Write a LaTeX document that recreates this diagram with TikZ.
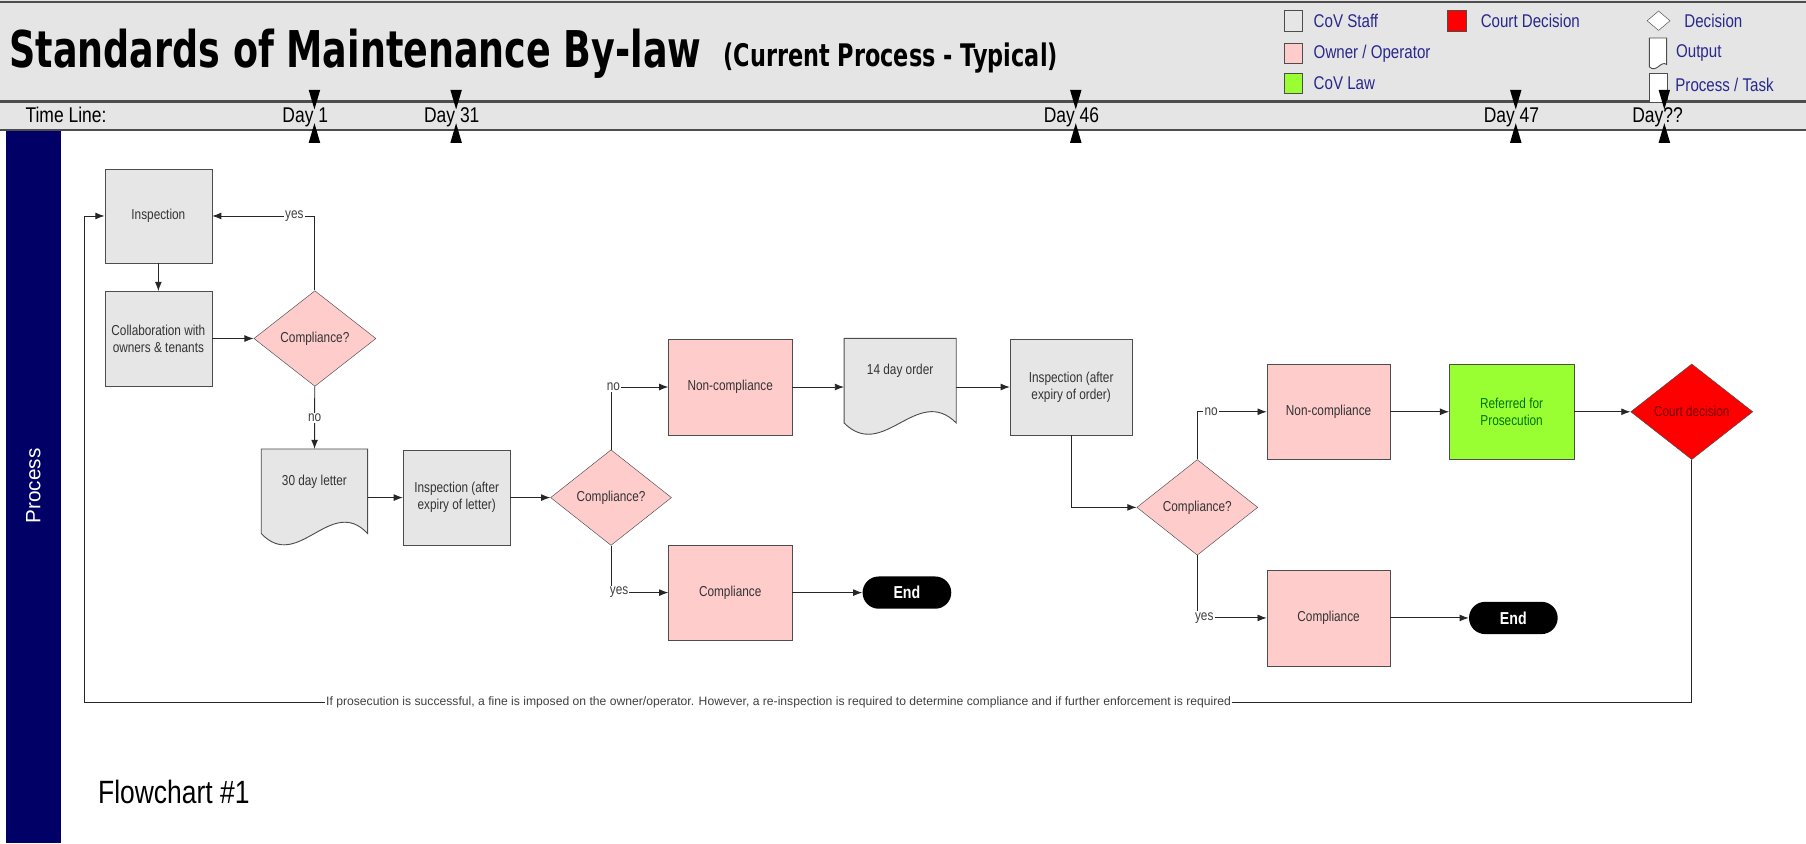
\documentclass[tikz,border=0pt]{standalone}
\usepackage{fontspec}
\setmainfont{Liberation Sans}
\newfontfamily\narrowfont{Liberation Sans}[FakeStretch=0.82]
\newfontfamily\titlefont{DejaVu Sans}[FakeStretch=0.72]
\usetikzlibrary{positioning,shapes.geometric,arrows.meta,backgrounds,calc}

\definecolor{staffgray}{RGB}{230,230,230}
\definecolor{headgray}{RGB}{229,229,229}
\definecolor{ownerpink}{RGB}{255,204,204}
\definecolor{lawgreen}{RGB}{153,255,51}
\definecolor{courtred}{RGB}{255,0,0}
\definecolor{bandblue}{RGB}{0,0,102}
\definecolor{edgegray}{RGB}{77,77,77}
\definecolor{legendblue}{RGB}{40,40,140}

\begin{document}
\begin{tikzpicture}[
x=1pt, y=1pt,
task/.style={
  rectangle,
  draw=edgegray,
  fill=staffgray,
  minimum width=93pt,
  minimum height=82pt,
  inner sep=2pt,
  align=center,
  text=black!80,
  font=\narrowfont\fontsize{12.5}{14.5}\selectfont},
owner/.style={task, fill=ownerpink, minimum width=107pt, minimum height=83pt},
law/.style={task, fill=lawgreen, minimum width=108pt, minimum height=83pt, text=black!55!green},
decision/.style={
  diamond,
  draw=edgegray,
  fill=ownerpink,
  minimum width=106pt,
  minimum height=83pt,
  inner sep=0pt,
  align=center,
  text=black!80,
  font=\narrowfont\fontsize{12.5}{14.5}\selectfont},
court/.style={decision, fill=courtred, text=red!45!black},
doc/.style={
  rectangle,
  minimum width=92pt,
  minimum height=56pt,
  inner sep=2pt,
  align=center,
  text=black!80,
  font=\narrowfont\fontsize{12.5}{14.5}\selectfont},
docline/.style={draw=edgegray, fill=staffgray, line width=0.8pt},
terminal/.style={
  rectangle,
  rounded corners=14pt,
  fill=black,
  minimum width=77pt,
  minimum height=28pt,
  text=white,
  font=\narrowfont\bfseries\fontsize{15}{17}\selectfont},
conn/.style={draw=black!85, line width=0.8pt, -{Latex[length=8pt,width=6pt]}},
lbl/.style={fill=white, inner sep=1pt, text=black!75,
  font=\narrowfont\fontsize{12.5}{14.5}\selectfont},
legendbox/.style={draw=edgegray, line width=0.8pt, minimum width=16pt, minimum height=18pt, inner sep=0pt},
legendtxt/.style={inner sep=0pt, text=legendblue, font=\narrowfont\fontsize{16}{18}\selectfont},
dayline/.style={anchor=base west, inner sep=0pt, font=\narrowfont\fontsize{18.5}{20}\selectfont}
]
\useasboundingbox (0,0) rectangle (1568,-732);

% header and swim lane
\fill[headgray] (0,0) rectangle (1568,-113);
\draw[edgegray, line width=2pt] (0,-2) -- (1568,-2);
\draw[edgegray, line width=2pt] (0,-88) -- (1568,-88);
\draw[edgegray, line width=2pt] (0,-113) -- (1568,-113);
\fill[bandblue] (5,-114) rectangle (53,-732);
\node[rotate=90, text=white, font=\fontsize{18}{20}\selectfont] (lane) at (29,-422) {Process};

\node[anchor=base west, inner sep=0pt, font=\titlefont\bfseries\fontsize{44}{48}\selectfont] (title) at (8,-59) {Standards of Maintenance By-law};
\node[anchor=base west, inner sep=0pt, font=\titlefont\bfseries\fontsize{27}{30}\selectfont] (subtitle) at (628,-58) {(Current Process - Typical)};

% legend
\node[legendbox, fill=staffgray] (kStaff) at (1123,-18) {};
\node[legendbox, fill=ownerpink] (kOwner) at (1123,-46.5) {};
\node[legendbox, fill=lawgreen] (kLaw) at (1123,-72.5) {};
\node[legendbox, fill=courtred] (kCourt) at (1265,-18) {};
\node[diamond, draw=edgegray, fill=white, minimum width=20pt, minimum height=17pt, inner sep=0pt] (kDec) at (1440,-18) {};
\node[legendbox, fill=white, minimum width=16pt, minimum height=25pt] (kTask) at (1440,-76.5) {};
\filldraw[draw=edgegray, fill=white, line width=0.8pt] (1432,-33) -- (1447,-33) -- (1447,-56)
  .. controls (1442,-52) and (1438,-64) .. (1432,-58) -- cycle;
\coordinate (kOut) at (1447,-46);
\node[legendtxt, right=9pt of kStaff] {CoV Staff};
\node[legendtxt, right=9pt of kOwner] {Owner / Operator};
\node[legendtxt, right=9pt of kLaw] {CoV Law};
\node[legendtxt, right=12pt of kCourt] {Court Decision};
\node[legendtxt, right=12pt of kDec] {Decision};
\node[legendtxt, right=8pt of kOut] {Output};
\node[legendtxt, right=6pt of kTask.east, yshift=3pt] {Process / Task};

% time line
\node[dayline] (tline) at (22,-106) {Time Line:};
\foreach \dx/\dtxt in {273/Day 1, 396/Day 31, 934/Day 46, 1316/Day 47, 1445/Day??} {
  \fill (\dx-5,-78) -- (\dx+5,-78) -- (\dx,-95) -- cycle;
  \fill (\dx-5,-124) -- (\dx+5,-124) -- (\dx,-107) -- cycle;
  \node[dayline] at (\dx-28,-106) {\dtxt};
}

% process
\node[task] (insp1) at (137.5,-187.5) {Inspection};
\node[task, below=24pt of insp1] (collab) {Collaboration with\\owners \& tenants};
\node[decision, right=36pt of collab] (dec1) {Compliance?};
\node[doc] (letter) at (273,-418) {30 day letter};
\node[task] (insp2) at (396.5,-432) {Inspection (after\\expiry of letter)};
\node[decision, minimum width=105pt] (dec2) at (530.5,-432) {Compliance?};
\node[owner] (noncomp1) at (634,-336) {Non-compliance};
\node[owner] (comp1) at (634,-514.5) {Compliance};
\node[terminal, right=61pt of comp1] (end1) {End};
\node[doc, minimum width=97pt] (order) at (781.5,-322) {14 day order};
\node[task, minimum width=106pt, minimum height=83pt] (insp3) at (930,-336) {Inspection (after\\expiry of order)};
\node[decision, minimum width=105pt] (dec3) at (1039.5,-440.5) {Compliance?};
\node[owner] (noncomp2) at (1153.5,-357.5) {Non-compliance};
\node[law, right=51pt of noncomp2] (referred) {Referred for\\Prosecution};
\node[court, right=49pt of referred] (court) {Court decision};
\node[owner] (comp2) at (1153.5,-536.5) {Compliance};
\node[terminal, right=68pt of comp2] (end2) {End};

\begin{scope}[on background layer]
  \filldraw[docline] (letter.north west) -- (letter.north east) -- ([yshift=-17pt]letter.south east)
    .. controls +(-32,34) and +(32,-34) .. ([yshift=-17pt]letter.south west) -- cycle;
  \filldraw[docline] (order.north west) -- (order.north east) -- ([yshift=-17pt]order.south east)
    .. controls +(-34,34) and +(34,-34) .. ([yshift=-17pt]order.south west) -- cycle;
\end{scope}

\draw[conn] (insp1) -- (collab);
\draw[conn] (collab) -- (dec1);
\draw[conn] (dec1.north) |- node[lbl, pos=0.6] {yes} (insp1.east);
\draw[conn] (dec1) -- node[lbl] {no} (letter);
\draw[conn] (letter.east |- insp2) -- (insp2);
\draw[conn] (insp2) -- (dec2);
\draw[conn] (dec2.north) |- node[lbl, pos=0.52] {no} (noncomp1.west);
\draw[conn] (dec2.south) |- node[lbl, pos=0.57] {yes} (comp1.west);
\draw[conn] (comp1) -- (end1);
\draw[conn] (noncomp1) -- (noncomp1 -| order.west);
\draw[conn] (order.east |- insp3) -- (insp3);
\draw[conn] (insp3.south) |- (dec3.west);
\draw[conn] (dec3.north) |- node[lbl, pos=0.6] {no} (noncomp2.west);
\draw[conn] (dec3.south) |- node[lbl, pos=0.55] {yes} (comp2.west);
\draw[conn] (noncomp2) -- (referred);
\draw[conn] (referred) -- (court);
\draw[conn] (comp2) -- (end2);

\coordinate (loopcorner) at (73,-610);
\draw[conn] (court.south) |- node[lbl, pos=0.784, font=\fontsize{10.55}{12}\selectfont]
  {If prosecution is successful, a fine is imposed on the owner/operator. However, a re-inspection is required to determine compliance and if further enforcement is required}
  (loopcorner) |- (insp1.west);

\node[anchor=west, inner sep=0pt, font=\narrowfont\fontsize{28}{30}\selectfont] (fcname) at (85,-688) {Flowchart \#1};
\end{tikzpicture}
\end{document}
